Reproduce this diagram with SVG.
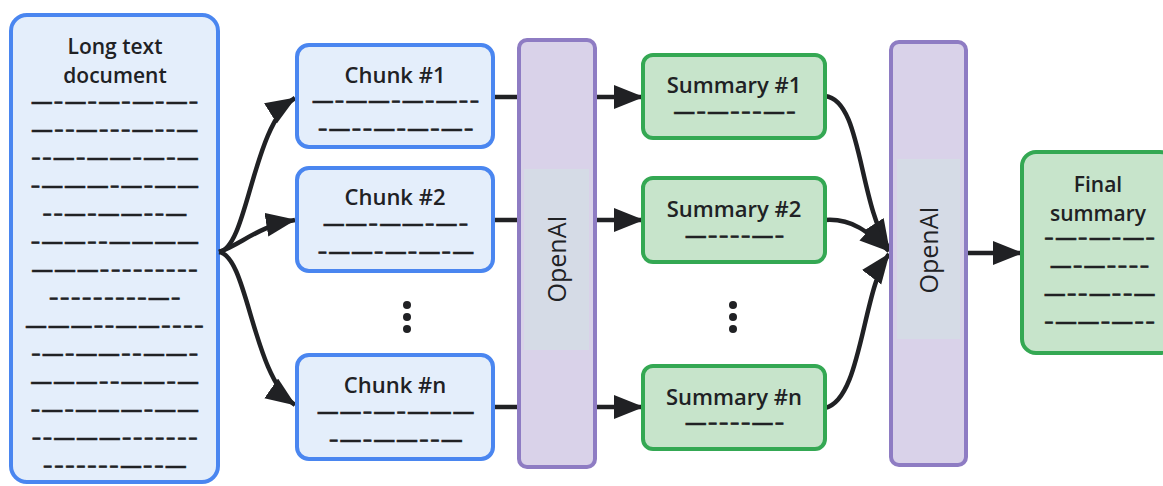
<svg xmlns="http://www.w3.org/2000/svg" width="1163" height="486" viewBox="0 0 1163 486">
<defs>
<marker id="ah" markerUnits="userSpaceOnUse" markerWidth="32" markerHeight="26" refX="29" refY="12" orient="auto">
<path d="M0,0 L30,12 L0,24 z" fill="#202124"/>
</marker>
<style>
.doc{fill:#e4eefb;stroke:#4a86f0;stroke-width:4}
.sum{fill:#c7e4cb;stroke:#34a853;stroke-width:4}
.ai{fill:#d9d2e9;stroke:#8e7cc3;stroke-width:4}
.band{fill:#d5dbe6}
.t{font-family:"Open Sans","Liberation Sans",sans-serif;font-weight:600;font-size:22px;fill:#202124;text-anchor:middle}
.t2{font-size:21px}
.d{font-family:"Liberation Sans",Arial,sans-serif;font-weight:700;font-size:20px;letter-spacing:2.7px;fill:#202124;stroke:#202124;stroke-width:0.6;text-anchor:middle}
.h{font-size:15px;baseline-shift:1.3px}
.ait{font-family:"Open Sans","Liberation Sans",sans-serif;font-size:25px;fill:#202124;text-anchor:middle}
.c{fill:none;stroke:#202124;stroke-width:4.5}
.dot{fill:#202124}
</style>
</defs>
<rect width="1163" height="486" fill="#ffffff"/>

<g id="long-doc">
<rect class="doc" x="11" y="15" width="207" height="467" rx="16"/>
<text class="t t2" x="115" y="54">Long text</text>
<text class="t t2" x="115" y="83">document</text>
<text class="d" x="116" y="108">—<tspan class="h">–</tspan>—<tspan class="h">–</tspan>—<tspan class="h">–</tspan>—<tspan class="h">–</tspan>—<tspan class="h">–</tspan></text>
<text class="d" x="116" y="136">—<tspan class="h">––</tspan>—<tspan class="h">–––</tspan>—<tspan class="h">––</tspan>—</text>
<text class="d" x="116" y="164"><tspan class="h">––</tspan>—<tspan class="h">–</tspan>——<tspan class="h">–</tspan>—<tspan class="h">–</tspan>—</text>
<text class="d" x="116" y="192"><tspan class="h">–</tspan>———<tspan class="h">–</tspan>—<tspan class="h">–</tspan>——</text>
<text class="d" x="116" y="220"><tspan class="h">––</tspan>—<tspan class="h">–</tspan>——<tspan class="h">––</tspan>—</text>
<text class="d" x="116" y="248"><tspan class="h">–</tspan>——<tspan class="h">––</tspan>————</text>
<text class="d" x="116" y="276">———<tspan class="h">–––––––––</tspan></text>
<text class="d" x="116" y="304"><tspan class="h">–––––––––</tspan>—<tspan class="h">–</tspan></text>
<text class="d" x="116" y="332">———<tspan class="h">––</tspan>——<tspan class="h">––––</tspan></text>
<text class="d" x="116" y="360"><tspan class="h">–</tspan>—<tspan class="h">–</tspan>——<tspan class="h">––</tspan>——<tspan class="h">–</tspan></text>
<text class="d" x="116" y="388">———<tspan class="h">––</tspan>——<tspan class="h">–</tspan>—</text>
<text class="d" x="116" y="416"><tspan class="h">–</tspan>—<tspan class="h">–</tspan>———<tspan class="h">–</tspan>——</text>
<text class="d" x="116" y="444"><tspan class="h">––</tspan>———<tspan class="h">–––––––</tspan></text>
<text class="d" x="116" y="472"><tspan class="h">–––––––</tspan>—<tspan class="h">––</tspan>—</text>
</g>

<g id="connectors">
<path class="c" d="M219,252 C248,248 252,125 295,98" marker-end="url(#ah)"/>
<path class="c" d="M219,252 C242,244 258,226 295,220" marker-end="url(#ah)"/>
<path class="c" d="M219,252 C248,256 252,375 295,405" marker-end="url(#ah)"/>
<path class="c" d="M493,97 L520,97"/>
<path class="c" d="M493,220 L520,220"/>
<path class="c" d="M493,407 L520,407"/>
<path class="c" d="M595,97 L643,97" marker-end="url(#ah)"/>
<path class="c" d="M595,220 L643,220" marker-end="url(#ah)"/>
<path class="c" d="M595,407 L643,407" marker-end="url(#ah)"/>
<path class="c" d="M825,96 C862,100 858,200 889,249" marker-end="url(#ah)"/>
<path class="c" d="M825,220 C852,218 868,232 889,251" marker-end="url(#ah)"/>
<path class="c" d="M825,408 C862,400 862,290 889,254" marker-end="url(#ah)"/>
<path class="c" d="M966,253 L1022,253" marker-end="url(#ah)"/>
</g>

<g id="chunk-1">
<rect class="doc" x="297" y="45" width="196" height="102" rx="12"/>
<text class="t" x="395" y="83">Chunk #1</text>
<text class="d" x="397" y="107">—<tspan class="h">–</tspan>——<tspan class="h">–</tspan>—<tspan class="h">–</tspan>—<tspan class="h">––</tspan></text>
<text class="d" x="397" y="135"><tspan class="h">–</tspan>—<tspan class="h">––</tspan>—<tspan class="h">–</tspan>—<tspan class="h">–</tspan>—<tspan class="h">–</tspan></text>
</g>
<g id="chunk-2">
<rect class="doc" x="297" y="168" width="196" height="103" rx="12"/>
<text class="t" x="395" y="205">Chunk #2</text>
<text class="d" x="397" y="230">——<tspan class="h">–</tspan>——<tspan class="h">–</tspan>—<tspan class="h">–</tspan></text>
<text class="d" x="397" y="258"><tspan class="h">–</tspan>——<tspan class="h">–</tspan>—<tspan class="h">–</tspan>—<tspan class="h">–</tspan>—</text>
</g>
<g id="chunk-dots">
<circle class="dot" cx="407" cy="305" r="4"/>
<circle class="dot" cx="407" cy="317" r="4"/>
<circle class="dot" cx="407" cy="329" r="4"/>
</g>
<g id="chunk-n">
<rect class="doc" x="297" y="355" width="196" height="104" rx="12"/>
<text class="t" x="395" y="393">Chunk #n</text>
<text class="d" x="397" y="418">——<tspan class="h">–</tspan>—<tspan class="h">–</tspan>———</text>
<text class="d" x="397" y="446"><tspan class="h">–</tspan>—<tspan class="h">–</tspan>——<tspan class="h">––</tspan>—</text>
</g>

<g id="openai-1">
<rect class="ai" x="519" y="40" width="76" height="427" rx="8"/>
<rect class="band" x="524" y="169" width="65" height="181"/>
<text class="ait" transform="translate(556,259) rotate(-90)" dominant-baseline="central">OpenAI</text>
</g>

<g id="summary-1">
<rect class="sum" x="643" y="55" width="182" height="83" rx="10"/>
<text class="t" x="734" y="93">Summary #1</text>
<text class="d" x="736" y="118">—<tspan class="h">–</tspan>—<tspan class="h">–––</tspan>—<tspan class="h">–</tspan></text>
</g>
<g id="summary-2">
<rect class="sum" x="643" y="178" width="182" height="84" rx="10"/>
<text class="t" x="734" y="217">Summary #2</text>
<text class="d" x="736" y="242">—<tspan class="h">––––</tspan>—<tspan class="h">–</tspan></text>
</g>
<g id="summary-dots">
<circle class="dot" cx="733" cy="305" r="4"/>
<circle class="dot" cx="733" cy="317" r="4"/>
<circle class="dot" cx="733" cy="329" r="4"/>
</g>
<g id="summary-n">
<rect class="sum" x="643" y="366" width="182" height="83" rx="10"/>
<text class="t" x="734" y="405">Summary #n</text>
<text class="d" x="736" y="429">—<tspan class="h">––––</tspan>—<tspan class="h">–</tspan></text>
</g>

<g id="openai-2">
<rect class="ai" x="891" y="42" width="75" height="423" rx="8"/>
<rect class="band" x="897" y="159" width="63" height="180"/>
<text class="ait" transform="translate(928,250) rotate(-90)" dominant-baseline="central">OpenAI</text>
</g>

<g id="final-summary">
<rect class="sum" x="1022" y="152" width="152" height="201" rx="14"/>
<text class="t t2" x="1098" y="192">Final</text>
<text class="t t2" x="1098" y="221">summary</text>
<text class="d" x="1101" y="244"><tspan class="h">–</tspan>—<tspan class="h">–</tspan>—<tspan class="h">–</tspan>—<tspan class="h">–</tspan></text>
<text class="d" x="1101" y="272">—<tspan class="h">–</tspan>—<tspan class="h">––––</tspan></text>
<text class="d" x="1101" y="300">—<tspan class="h">––</tspan>—<tspan class="h">––</tspan>—</text>
<text class="d" x="1101" y="328"><tspan class="h">–</tspan>——<tspan class="h">–</tspan>—<tspan class="h">––</tspan></text>
</g>
</svg>
